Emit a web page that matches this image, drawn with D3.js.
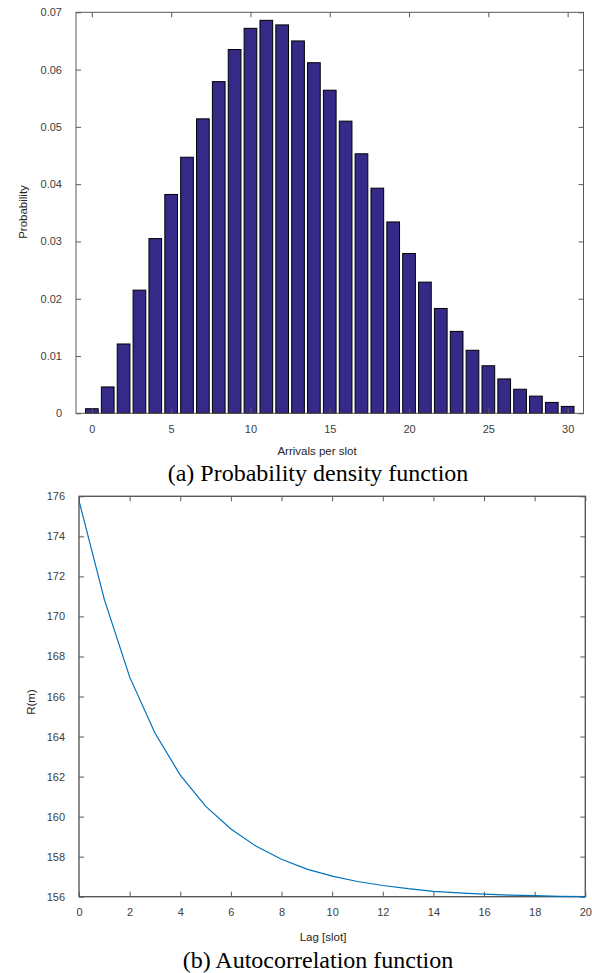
<!DOCTYPE html>
<html>
<head>
<meta charset="utf-8">
<script src="https://cdn.jsdelivr.net/npm/d3@7"></script>
<style>
  html, body { margin: 0; padding: 0; background: #fff; }
  svg { display: block; }
  .tick text { font-family: "Liberation Sans", Arial, sans-serif; font-size: 11px; fill: #404040; }
  .lbl { font-family: "Liberation Sans", Arial, sans-serif; font-size: 11.5px; fill: #262626; }
  .cap { font-family: "Liberation Serif", "Times New Roman", serif; font-size: 24px; fill: #000; }
</style>
</head>
<body>
<script>
// Arrivals per slot (0..30) and their probabilities
const arrivals = d3.range(0, 31);
const probability = [
  0.0008, 0.0046, 0.0121, 0.0215, 0.0305, 0.0382, 0.0447, 0.0514, 0.0579, 0.0635,
  0.0672, 0.0686, 0.0678, 0.0650, 0.0612, 0.0564, 0.0510, 0.0453, 0.0393, 0.0334,
  0.0279, 0.0229, 0.0183, 0.0143, 0.0110, 0.0083, 0.0060, 0.0042, 0.0030, 0.0019,
  0.0012
];
const pdfXTicks = [0, 5, 10, 15, 20, 25, 30];
const pdfYTicks = [0, 0.01, 0.02, 0.03, 0.04, 0.05, 0.06, 0.07];

// Autocorrelation R(m) for lags 0..20
const lags = d3.range(0, 21);
const autocorr = [
  175.78, 170.85, 166.98, 164.18, 162.07, 160.52, 159.38, 158.52, 157.87, 157.38,
  157.03, 156.76, 156.56, 156.40, 156.27, 156.19, 156.13, 156.08, 156.05, 156.02,
  156.00
];
const acfXTicks = [0, 2, 4, 6, 8, 10, 12, 14, 16, 18, 20];
const acfYTicks = [156, 158, 160, 162, 164, 166, 168, 170, 172, 174, 176];

const svg = d3.select("body").append("svg")
  .attr("width", 592).attr("height", 973);

const axisColor = "#5a5a5a";
const tickLen = 5;

// Boxed axes with inward ticks on all four sides
function boxAxes(g, x, y, xTicks, yTicks, xFmt, yFmt, sw) {
  const [x0, x1] = x.range();
  const [y0, y1] = y.range();
  g.append("g").attr("transform", `translate(0,${y0})`)
    .call(d3.axisBottom(x).tickValues(xTicks).tickFormat(xFmt).tickSizeInner(-tickLen).tickSizeOuter(0).tickPadding(12))
    .call(a => a.select(".domain").remove());
  g.append("g").attr("transform", `translate(0,${y1})`)
    .call(d3.axisTop(x).tickValues(xTicks).tickFormat("").tickSizeInner(-tickLen).tickSizeOuter(0))
    .call(a => a.select(".domain").remove());
  g.append("g").attr("transform", `translate(${x0},0)`)
    .call(d3.axisLeft(y).tickValues(yTicks).tickFormat(yFmt).tickSizeInner(-tickLen).tickSizeOuter(0).tickPadding(14))
    .call(a => a.select(".domain").remove());
  g.append("g").attr("transform", `translate(${x1},0)`)
    .call(d3.axisRight(y).tickValues(yTicks).tickFormat("").tickSizeInner(-tickLen).tickSizeOuter(0))
    .call(a => a.select(".domain").remove());
  g.selectAll(".tick line").attr("stroke", axisColor).attr("stroke-width", 1);
  g.append("rect")
    .attr("x", x0).attr("y", y1).attr("width", x1 - x0).attr("height", y0 - y1)
    .attr("fill", "none").attr("stroke", axisColor).attr("stroke-width", sw);
}

// ---- (a) Probability density function ----
const xPdf = d3.scaleLinear().domain([-1, 31]).range([76, 583.5]);
const yPdf = d3.scaleLinear().domain([0, 0.07]).range([413.3, 12.3]);
const gA = svg.append("g");
const barW = (xPdf(1) - xPdf(0)) * 0.8;

gA.append("g").selectAll("rect").data(arrivals).join("rect")
  .attr("x", d => xPdf(d) - barW / 2)
  .attr("y", d => yPdf(probability[d]))
  .attr("width", barW)
  .attr("height", d => yPdf(0) - yPdf(probability[d]))
  .attr("fill", "#352a87")
  .attr("stroke", "#000")
  .attr("stroke-width", 1);

boxAxes(gA, xPdf, yPdf, pdfXTicks, pdfYTicks, d3.format("d"), d => d === 0 ? "0" : d3.format(".2f")(d), 1);

gA.append("text").attr("class", "lbl")
  .attr("transform", "translate(27,212) rotate(-90)")
  .attr("text-anchor", "middle").text("Probability");
gA.append("text").attr("class", "lbl")
  .attr("x", 317).attr("y", 455).attr("text-anchor", "middle").text("Arrivals per slot");
gA.append("text").attr("class", "cap")
  .attr("x", 318).attr("y", 481).attr("text-anchor", "middle").text("(a) Probability density function");

// ---- (b) Autocorrelation function ----
const xAcf = d3.scaleLinear().domain([0, 20]).range([79, 585.3]);
const yAcf = d3.scaleLinear().domain([156, 176]).range([896.7, 496.3]);
const gB = svg.append("g");

boxAxes(gB, xAcf, yAcf, acfXTicks, acfYTicks, d3.format("d"), d3.format("d"), 1.4);

gB.append("path")
  .datum(lags)
  .attr("fill", "none")
  .attr("stroke", "#0072bd")
  .attr("stroke-width", 1.2)
  .attr("d", d3.line().x(d => xAcf(d)).y(d => yAcf(autocorr[d])));

gB.append("text").attr("class", "lbl")
  .attr("transform", "translate(35,702) rotate(-90)")
  .attr("text-anchor", "middle").text("R(m)");
gB.append("text").attr("class", "lbl")
  .attr("x", 323).attr("y", 941).attr("text-anchor", "middle").text("Lag [slot]");
gB.append("text").attr("class", "cap")
  .attr("x", 318).attr("y", 968).attr("text-anchor", "middle").text("(b) Autocorrelation function");
</script>
</body>
</html>
